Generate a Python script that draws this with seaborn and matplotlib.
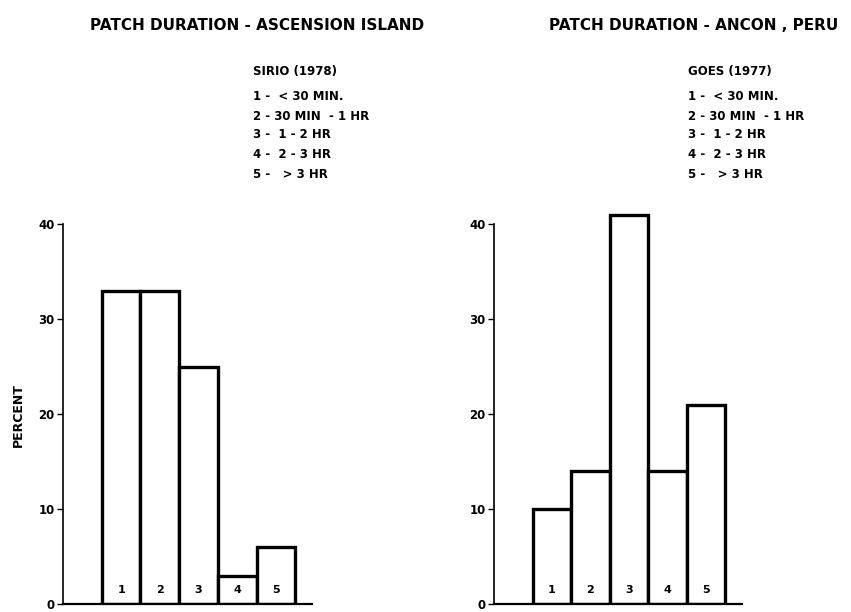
import matplotlib
matplotlib.use("Agg")
import matplotlib.pyplot as plt
import seaborn as sns

# ---- data ----
categories = ["1", "2", "3", "4", "5"]
ascension_pct = [33, 33, 25, 3, 6]
ancon_pct = [10, 14, 41, 14, 21]
yticks = [0, 10, 20, 30, 40]

title_left = "PATCH DURATION - ASCENSION ISLAND"
title_right = "PATCH DURATION - ANCON , PERU"
legend_left = ["SIRIO (1978)", "1 -  < 30 MIN.", "2 - 30 MIN  - 1 HR", "3 -  1 - 2 HR",
               "4 -  2 - 3 HR", "5 -   > 3 HR"]
legend_right = ["GOES (1977)", "1 -  < 30 MIN.", "2 - 30 MIN  - 1 HR", "3 -  1 - 2 HR",
                "4 -  2 - 3 HR", "5 -   > 3 HR"]
ylabel = "PERCENT"

sns.set_theme(style="white")
plt.rcParams["font.family"] = ["DejaVu Sans"]
plt.rcParams["font.weight"] = "bold"
plt.rcParams["text.color"] = "black"
plt.rcParams["axes.labelcolor"] = "black"
plt.rcParams["xtick.color"] = "black"
plt.rcParams["ytick.color"] = "black"

W, H = 851, 612
fig = plt.figure(figsize=(W / 100, H / 100), dpi=100)

def px_ax(x0, x1, y_bottom, y_top):
    return fig.add_axes([x0 / W, 1 - y_bottom / H, (x1 - x0) / W, (y_bottom - y_top) / H])

# axes: y=0 near bottom, 10 units ~ 96 px, ylim 0..42
Y0 = 604
U = 9.5
axL = px_ax(63, 312, Y0, Y0 - 42 * U)
axR = px_ax(494, 742, Y0, Y0 - 42 * U)

for ax, vals in [(axL, ascension_pct), (axR, ancon_pct)]:
    sns.barplot(x=categories, y=vals, ax=ax, color="white", edgecolor="black",
                linewidth=2.4, width=1.0, saturation=1)
    ax.set_xlim(-1.5, 4.93)
    ax.set_ylim(0, 42)
    ax.set_yticks(yticks)
    ax.set_yticklabels([str(t) for t in yticks], fontsize=8.5, fontweight="bold",
                       color="black")
    ax.set_xticks([])
    ax.set_xlabel("")
    ax.set_ylabel("")
    ax.patch.set_alpha(0)
    for s in ["top", "right"]:
        ax.spines[s].set_visible(False)
    ax.spines["left"].set_bounds(0, 40)
    ax.spines["left"].set_linewidth(1.2)
    ax.spines["bottom"].set_linewidth(1.6)
    ax.spines["left"].set_color("black")
    ax.spines["bottom"].set_color("black")
    ax.tick_params(axis="y", direction="out", length=4, width=1.0, color="black",
                   left=True, pad=2)
    for i, lab in enumerate(categories):
        ax.text(i, 1.45, lab, ha="center", va="center", fontsize=8, fontweight="bold",
                color="black")

fig.text(18 / W, 1 - 415 / H, ylabel, rotation=90, ha="center", va="center",
         fontsize=9, fontweight="bold", color="black")

fig.text(257 / W, 1 - 26 / H, title_left, ha="center", va="center", fontsize=11,
         fontweight="bold", color="black")
fig.text(694 / W, 1 - 26 / H, title_right, ha="center", va="center", fontsize=11,
         fontweight="bold", color="black")

ys = [72, 97, 116, 135, 155, 174]
for y, line in zip(ys, legend_left):
    fig.text(253 / W, 1 - y / H, line, ha="left", va="center", fontsize=8.5,
             fontweight="bold", color="black")
for y, line in zip(ys, legend_right):
    fig.text(688 / W, 1 - y / H, line, ha="left", va="center", fontsize=8.5,
             fontweight="bold", color="black")

fig.savefig("out.png", dpi=100, facecolor="white")
